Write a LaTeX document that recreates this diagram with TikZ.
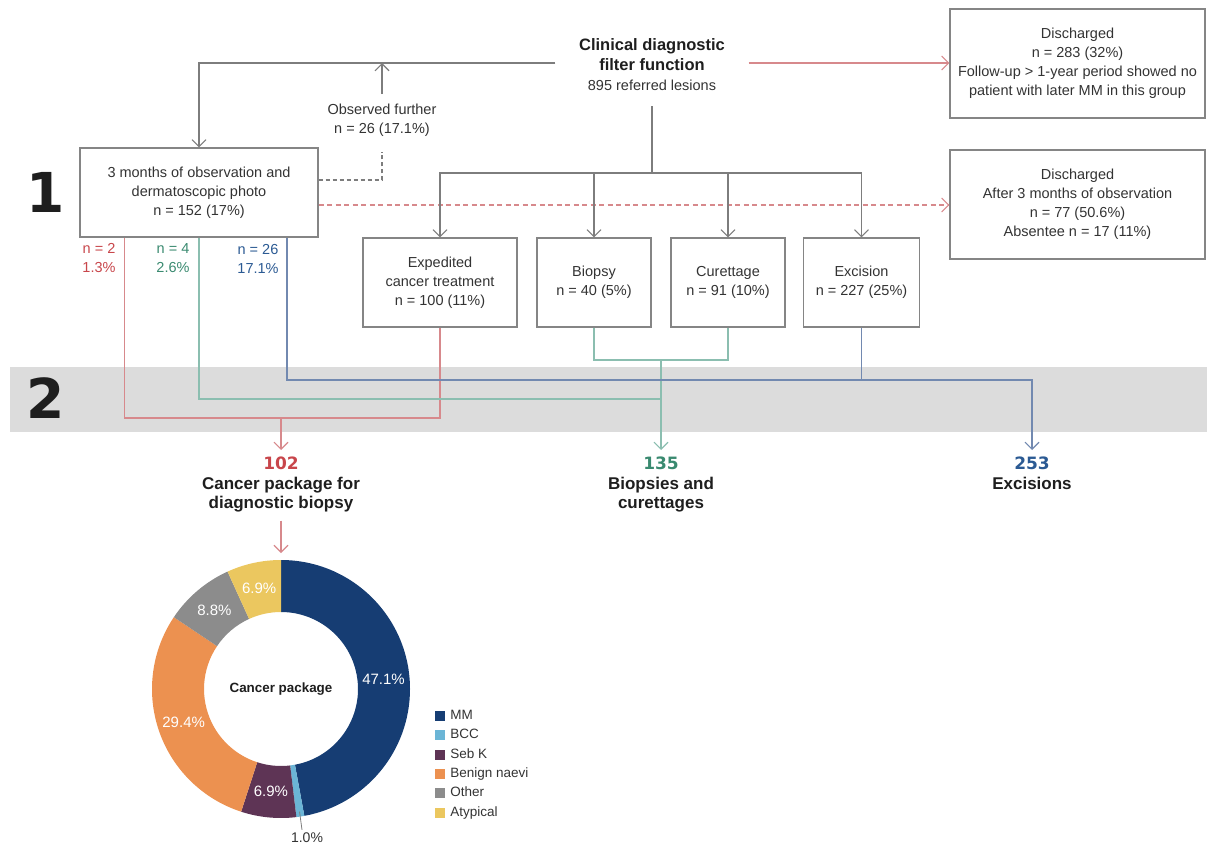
\documentclass[tikz,border=0pt]{standalone}
\usepackage{fontspec}
\setmainfont{Liberation Sans}
\newfontfamily\stagefamily{DejaVu Sans}
\usetikzlibrary{arrows.meta,positioning}

\definecolor{boxgray}{HTML}{858585}
\definecolor{linegray}{HTML}{7D7D7D}
\definecolor{textgray}{HTML}{333333}
\definecolor{titletext}{HTML}{1E1E1E}
\definecolor{bandgray}{HTML}{DCDCDC}
\definecolor{redline}{HTML}{D7898C}
\definecolor{redtext}{HTML}{C8464B}
\definecolor{greenline}{HTML}{8BBEB0}
\definecolor{greentext}{HTML}{3A8A70}
\definecolor{blueline}{HTML}{7289B0}
\definecolor{bluetext}{HTML}{2B5A93}
\definecolor{chartmm}{HTML}{163D73}
\definecolor{chartbcc}{HTML}{6BB5D6}
\definecolor{chartsebk}{HTML}{5E3455}
\definecolor{chartnaevi}{HTML}{EC9150}
\definecolor{chartother}{HTML}{8C8C8C}
\definecolor{chartatyp}{HTML}{EBC75F}

\newcommand\bodyfont{\fontsize{14.5}{19}\selectfont}
\newcommand\headfont{\fontsize{16.5}{20}\selectfont}
\newcommand\resfont{\bfseries\fontsize{17}{19.5}\selectfont}
\newcommand\stagefont{\stagefamily\bfseries\fontsize{55}{55}\selectfont}
\newcommand\total[2]{\textcolor{#1}{\stagefamily\bfseries #2}}

\tikzset{
  box/.style={draw=boxgray, line width=1.1pt, inner sep=0pt, minimum height=89pt, align=center, text=textgray, font=\bodyfont},
  freetext/.style={inner sep=0pt, align=center, text=textgray, font=\bodyfont},
  link/.style={draw=linegray, line width=1.1pt},
  redlink/.style={draw=redline, line width=1.1pt},
  greenlink/.style={draw=greenline, line width=1.1pt},
  bluelink/.style={draw=blueline, line width=1.1pt},
  arrowed/.style={-{Straight Barb[length=7pt,width=14pt]}},
  result/.style={inner sep=0pt, align=center, text=titletext, font=\resfont, anchor=north},
  stage/.style={inner sep=0pt, text=titletext, font=\stagefont},
  slice/.style={inner sep=0pt, text=white, font=\fontsize{15}{15}\selectfont},
  swatch/.style={minimum size=10pt, inner sep=0pt},
  keytext/.style={inner sep=0pt, text height=9.5pt, text depth=2.5pt, text=textgray, font=\fontsize{13.5}{15}\selectfont},
}

\begin{document}
\begin{tikzpicture}[x=1pt, y=-1pt]
\useasboundingbox (0,0) rectangle (1207,845);
\fill[bandgray] (10,367) rectangle (1207,432);

\node[stage] (one) at (46,192.5) {1};
\node[stage] (two) at (46,398) {2};

\node[inner sep=0pt, minimum width=193pt, align=center, text=titletext, font=\headfont] (filter) at (652,65)
  {\bfseries Clinical diagnostic\\\bfseries filter function\\\fontsize{14.5}{20}\selectfont\color{textgray}895 referred lesions};
\node[box, minimum width=238pt] (obs) at (199,192.5) {3 months of observation and\\dermatoscopic photo\\n = 152 (17\%)};
\node[freetext] (further) at (382,120.5) {Observed further\\n = 26 (17.1\%)};
\node[box, minimum width=255pt, minimum height=109pt] (dis1) at (1077.5,63.5)
  {Discharged\\n = 283 (32\%)\\Follow-up > 1-year period showed no\\patient with later MM in this group};
\node[box, minimum width=255pt, minimum height=109pt] (dis2) at (1077.5,204.5)
  {Discharged\\After 3 months of observation\\n = 77 (50.6\%)\\Absentee n = 17 (11\%)};

\node[box, minimum width=154pt] (exped) at (440,282.5) {Expedited\\cancer treatment\\n = 100 (11\%)};
\node[box, minimum width=114pt] (biopsy) at (594,282.5) {Biopsy\\n = 40 (5\%)};
\node[box, minimum width=114pt] (curet) at (728,282.5) {Curettage\\n = 91 (10\%)};
\node[box, minimum width=116pt] (excis) at (861.5,282.5) {Excision\\n = 227 (25\%)};

\node[freetext, text=redtext] (redcount) at (99,258.5) {n = 2\\1.3\%};
\node[freetext, text=greentext] (greencount) at (173,258.5) {n = 4\\2.6\%};
\node[freetext, text=bluetext] (bluecount) at (258,258.5) {n = 26\\17.1\%};

\node[result] (pkg) at (281,457) {\total{redtext}{102}\\Cancer package for\\diagnostic biopsy};
\node[result] (bc) at (661,457) {\total{greentext}{135}\\Biopsies and\\curettages};
\node[result] (exc) at (1032,457) {\total{bluetext}{253}\\Excisions};

\coordinate (bend) at ([yshift=2pt]filter.west);
\coordinate (bend2) at ([yshift=2pt]filter.east);
\coordinate (outobs) at ([yshift=-12.5pt]obs.east);
\coordinate (fork) at (652,173);
\coordinate (redjoin) at (281,418);
\coordinate (greenjoin) at (661,399);
\coordinate (bcjoin) at (661,360);
\coordinate (bluejoin) at (861.5,380);
\coordinate (ringtop) at (281,553);

\draw[link, arrowed] (bend) -| (obs.north);
\draw[link, arrowed] ([yshift=10pt]further.north) -- (further.north |- bend);
\draw[link, dashed, dash pattern=on 4pt off 3pt] ([yshift=12.5pt]obs.east) -| ([yshift=-15pt]further.south);
\draw[redlink, arrowed] (bend2) -- (bend2 -| dis1.west);
\draw[redlink, arrowed, dash pattern=on 5pt off 3.5pt] (outobs) -- (outobs -| dis2.west);

\draw[link] ([yshift=-15pt]filter.south) -- (fork);
\foreach \b in {exped,biopsy,curet,excis}
  \draw[link, arrowed] (fork) -| (\b.north);

\draw[redlink] ([xshift=45pt]obs.south west) |- (redjoin) -| (exped.south);
\draw[redlink, arrowed] (redjoin) -- ([yshift=7pt]pkg.north);
\draw[greenlink] (obs.south) |- (greenjoin);
\draw[greenlink] (biopsy.south) |- (bcjoin) -| (curet.south);
\draw[greenlink, arrowed] (bcjoin) -- ([yshift=7pt]bc.north);
\draw[bluelink] (excis.south) -- (bluejoin);
\draw[bluelink, arrowed] ([xshift=88pt]obs.south) |- (bluejoin) -| ([yshift=7pt]exc.north);

\draw[redlink, arrowed] ([yshift=-8pt]pkg.south) -- (ringtop);

\begin{scope}[shift={(281,689)}, x=1pt, y=1pt]
\foreach \a/\b/\c in {90/-79.56/chartmm, -79.56/-83.16/chartbcc, -83.16/-108/chartsebk,
    -108/-213.84/chartnaevi, -213.84/-245.52/chartother, -245.52/-270/chartatyp}
  \fill[fill=\c] (\a:129) arc[start angle=\a, end angle=\b, radius=129]
    -- (\b:77) arc[start angle=\b, end angle=\a, radius=77] -- cycle;
\node[inner sep=0pt, text=titletext, font=\bfseries\fontsize{13.4}{15}\selectfont] (core) at (0,0) {Cancer package};
\foreach \ang/\txt [count=\i] in {5.22/47.1\%, -95.6/6.9\%, -160.9/29.4\%, -229.7/8.8\%, -257.8/6.9\%}
  \node[slice] (pct\i) at (\ang:103) {\txt};
\node[inner sep=0pt, text=textgray, font=\fontsize{14}{15}\selectfont] (pctbcc) at (26,-149) {1.0\%};
\draw[draw=linegray, line width=0.8pt] (-81.4:124) -- ([xshift=-5pt,yshift=3pt]pctbcc.north);
\end{scope}

\foreach \c/\txt [count=\i] in {chartmm/MM, chartbcc/BCC, chartsebk/Seb K, chartnaevi/Benign naevi, chartother/Other, chartatyp/Atypical} {
  \node[swatch, fill=\c] (key\i) at (440,696.7+19.3*\i) {};
  \node[keytext, right=5pt of key\i] (keylbl\i) {\txt};
}
\end{tikzpicture}
\end{document}
